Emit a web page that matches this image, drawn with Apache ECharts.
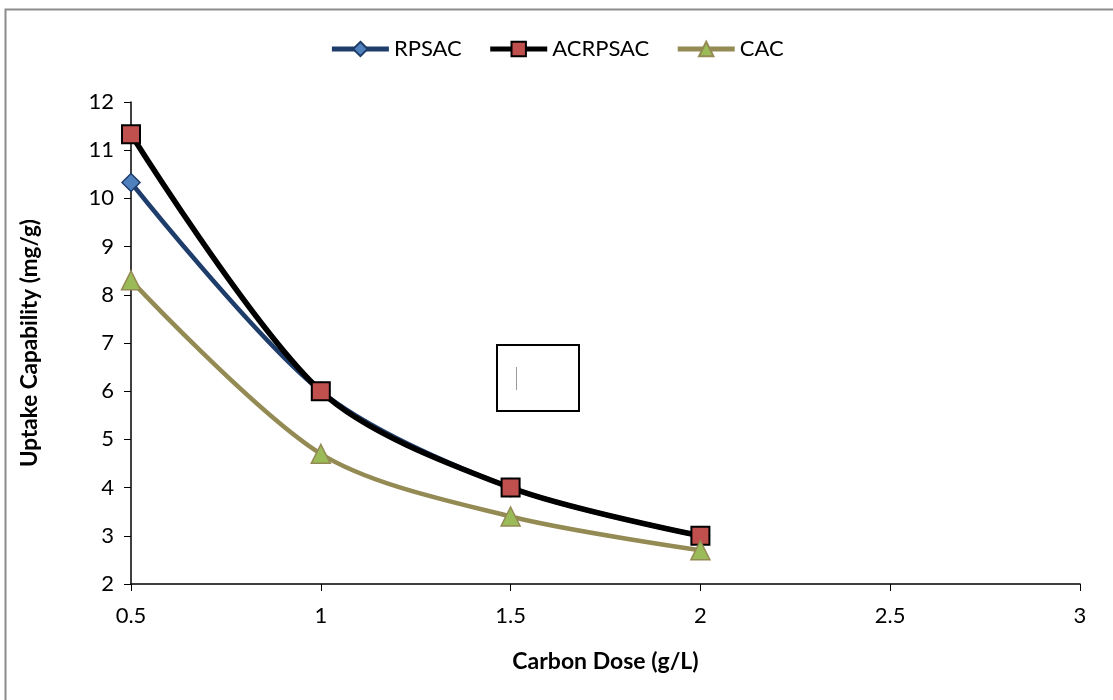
<!DOCTYPE html>
<html>
<head>
<meta charset="utf-8">
<script src="https://cdn.jsdelivr.net/npm/echarts@6/dist/echarts.min.js"></script>
<style>
html,body{margin:0;padding:0;background:#fff;}
#chart{width:1113px;height:700px;}
</style>
</head>
<body>
<div id="chart"></div>
<script>
const doses = [0.5, 1, 1.5, 2];
const rpsac = [10.33, 6.0, 4.0, 3.0];
const acrpsac = [11.33, 6.0, 4.0, 3.0];
const cac = [8.3, 4.7, 3.4, 2.7];
const xTicks = [0.5, 1, 1.5, 2, 2.5, 3];
const yTicks = [2, 3, 4, 5, 6, 7, 8, 9, 10, 11, 12];

const FONT = 'Lato, "Liberation Sans", sans-serif';
const pair = (xs, ys) => xs.map((x, i) => [x, ys[i]]);

const chart = echarts.init(document.getElementById('chart'));
chart.setOption({
  animation: false,
  backgroundColor: '#fff',
  textStyle: {fontFamily: FONT},
  graphic: [
    {type: 'rect', shape: {x: 5.5, y: 9.5, width: 1200, height: 800}, style: {fill: 'none', stroke: '#8c8c8c', lineWidth: 2}, silent: true},
    {type: 'rect', shape: {x: 497, y: 345, width: 82, height: 66}, style: {fill: '#fff', stroke: '#000', lineWidth: 2}, z: 1},
    {type: 'line', shape: {x1: 516.5, y1: 367, x2: 516.5, y2: 390}, style: {stroke: '#999', lineWidth: 1}, z: 2}
  ],
  legend: {
    top: 33,
    left: 'center',
    itemWidth: 57,
    itemHeight: 18,
    itemGap: 26,
    lineStyle: {width: 5},
    textStyle: {fontSize: 22, fontFamily: FONT, color: '#000'},
    data: ['RPSAC', 'ACRPSAC', 'CAC']
  },
  grid: {left: 131, right: 33, top: 102, bottom: 116, containLabel: false},
  xAxis: {
    type: 'value', min: 0.5, max: 3, interval: 0.5,
    name: 'Carbon Dose (g/L)', nameLocation: 'middle', nameGap: 66,
    nameTextStyle: {fontSize: 23, fontWeight: 'bold', color: '#000', fontFamily: FONT},
    axisLine: {show: true, onZero: false, lineStyle: {color: '#000', width: 1.5}},
    axisTick: {show: true, length: 7, lineStyle: {color: '#000', width: 1}},
    axisLabel: {fontSize: 22, color: '#000', margin: 21, fontFamily: FONT,
      formatter: v => xTicks.includes(v) ? String(v) : ''},
    splitLine: {show: false}
  },
  yAxis: {
    type: 'value', min: 2, max: 12, interval: 1,
    name: 'Uptake Capability (mg/g)', nameLocation: 'middle', nameGap: 90,
    nameTextStyle: {fontSize: 22.5, fontWeight: 'bold', color: '#000', fontFamily: FONT},
    axisLine: {show: true, lineStyle: {color: '#000', width: 1.5}},
    axisTick: {show: true, length: 7, lineStyle: {color: '#000', width: 1}},
    axisLabel: {fontSize: 22, color: '#000', margin: 17, fontFamily: FONT,
      formatter: v => yTicks.includes(v) ? String(v) : ''},
    splitLine: {show: false}
  },
  series: [
    {
      name: 'RPSAC', type: 'line', data: pair(doses, rpsac), smooth: 0.3,
      symbol: 'diamond', symbolSize: 18, showSymbol: true,
      lineStyle: {color: '#1f3d6b', width: 4.5},
      itemStyle: {color: '#4f81bd', borderColor: '#1f3d6b', borderWidth: 1.5},
      z: 3
    },
    {
      name: 'ACRPSAC', type: 'line', data: pair(doses, acrpsac), smooth: 0.3,
      symbol: 'rect', symbolSize: 18, showSymbol: true,
      lineStyle: {color: '#000', width: 5.5},
      itemStyle: {color: '#c0504d', borderColor: '#000', borderWidth: 2},
      z: 4
    },
    {
      name: 'CAC', type: 'line', data: pair(doses, cac), smooth: 0.3,
      symbol: 'triangle', symbolSize: 19, showSymbol: true,
      lineStyle: {color: '#948a54', width: 4.5},
      itemStyle: {color: '#9bbb59', borderColor: '#948a54', borderWidth: 1.5},
      z: 5
    }
  ]
});
</script>
</body>
</html>
